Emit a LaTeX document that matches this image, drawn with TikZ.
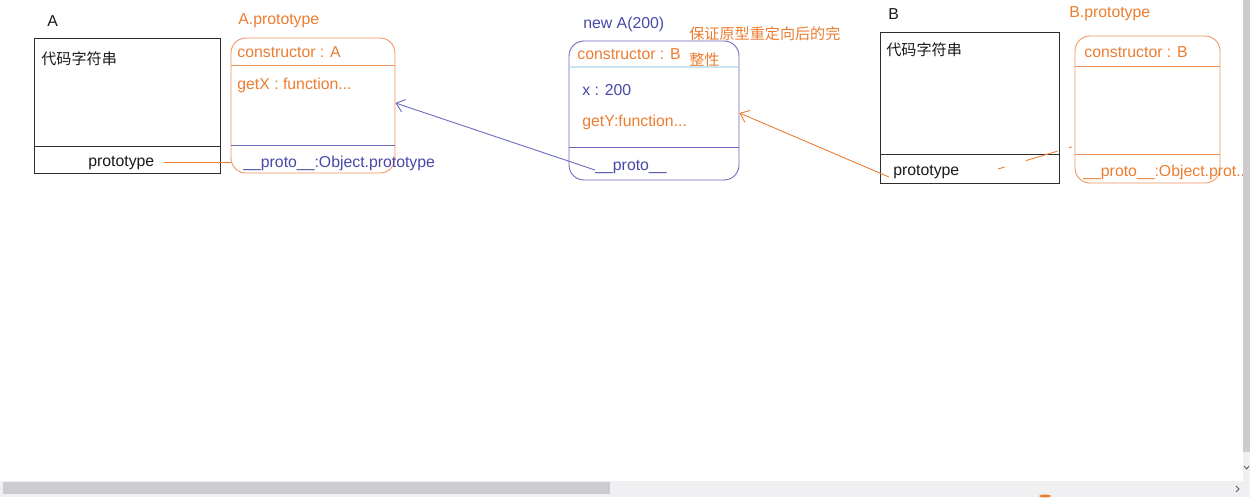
\documentclass[tikz,border=0pt]{standalone}
\usepackage{fontspec}
\setmainfont{Liberation Sans}
\newfontfamily\cjk{Noto Sans CJK SC}
\usetikzlibrary{fit,arrows.meta}
\definecolor{og}{RGB}{237,125,49}
\definecolor{ogl}{RGB}{240,150,95}
\definecolor{bl}{RGB}{72,72,168}
\definecolor{bll}{RGB}{105,105,190}
\definecolor{lc}{RGB}{200,230,240}
\definecolor{ink}{RGB}{25,25,25}
\definecolor{edge}{RGB}{45,45,45}
\definecolor{sbtrack}{RGB}{240,239,242}
\definecolor{sbthumb}{RGB}{205,203,208}
\tikzset{
  lat/.style={anchor=base west,inner sep=0pt,font=\fontsize{9pt}{11pt}\selectfont},
  han/.style={anchor=base west,inner sep=0pt,font=\fontsize{8.6pt}{11pt}\selectfont\cjk},
  plainbox/.style={draw=edge,line width=0.5pt,inner sep=0pt},
  protobox/.style={draw=ogl,line width=0.5pt,inner sep=0pt,rounded corners=0.3cm},
  objbox/.style={draw=bll,line width=0.5pt,inner sep=0pt,rounded corners=0.3cm},
  link/.style={line width=0.5pt},
  tipopen/.style={-{Straight Barb[length=0.16cm,width=0.26cm]}}
}
\begin{document}
\begin{tikzpicture}[x=0.02cm,y=-0.02cm]
\useasboundingbox[fill=white] (0,0) rectangle (1250,497);
% ---- A ----
\node[lat,text=ink] (Alab) at (47,27) {A};
\node[plainbox,fit={(34,38) (220,173)}] (Abox) {};
\draw[edge,line width=0.5pt] (Abox.west |- 0,146) -- (Abox.east |- 0,146);
\node[han,text=ink] (Acode) at (41,64) {代码字符串};
\node[lat,text=ink] (Aprot) at (88,166) {prototype};
% ---- A.prototype ----
\node[lat,text=og] (APlab) at (238,25) {A.prototype};
\node[protobox,fit={(231,38) (395,173)}] (APbox) {};
\draw[ogl,line width=0.5pt] (APbox.west |- 0,65) -- (APbox.east |- 0,65);
\draw[bll,line width=0.5pt] (APbox.west |- 0,145) -- (APbox.east |- 0,145);
\node[lat,text=og] (APcons) at (237,57) {constructor : A};
\node[lat,text=og] (APget) at (237,89) {getX : function...};
\node[lat,text=bl] (APpro) at (243,167) {\_\_proto\_\_:Object.prototype};
\draw[og,link] ([xshift=0.18cm]Aprot.east |- 0,162) -- (APbox.west |- 0,162);
% ---- new A(200) ----
\node[lat,text=bl] (Nlab) at (583,29) {new A(200)};
\node[objbox,fit={(569,41) (739,180)}] (Nbox) {};
\draw[lc,line width=0.8pt] ([xshift=0.02cm]Nbox.west |- 0,67) -- ([xshift=-0.02cm]Nbox.east |- 0,67);
\draw[bll,line width=0.5pt] (Nbox.west |- 0,147) -- (Nbox.east |- 0,147);
\node[lat,text=og] (Ncons) at (577,59) {constructor : B};
\node[lat,text=bl] (Nx) at (582,95) {x : 200};
\node[lat,text=og] (Nget) at (582,126) {getY:function...};
\node[lat,text=bl] (Npro) at (595,170) {\_\_proto\_\_};
\node[han,text=og] (note1) at (689,39) {保证原型重定向后的完};
\node[han,text=og] (note2) at (689,65) {整性};
\draw[bll,link,tipopen] (Npro.base west) -- (APbox.east |- 0,103);
% ---- B ----
\node[lat,text=ink] (Blab) at (888,19) {B};
\node[plainbox,fit={(880,32) (1059,183)}] (Bbox) {};
\draw[edge,line width=0.5pt] (Bbox.west |- 0,154) -- (Bbox.east |- 0,154);
\node[han,text=ink] (Bcode) at (886,55) {代码字符串};
\node[lat,text=ink] (Bprot) at (893,175) {prototype};
% ---- B.prototype ----
\node[lat,text=og] (BPlab) at (1069,17) {B.prototype};
\node[protobox,fit={(1075,36) (1220,183)}] (BPbox) {};
\draw[ogl,line width=0.5pt] (BPbox.west |- 0,66) -- (BPbox.east |- 0,66);
\draw[ogl,line width=0.5pt] (BPbox.west |- 0,154) -- (BPbox.east |- 0,154);
\node[lat,text=og] (BPcons) at (1084,57) {constructor : B};
\node[lat,text=og] (BPpro) at (1083,176) {\_\_proto\_\_:Object.prot..};
\coordinate (Bstart) at (889,177);
\draw[og,link,tipopen] (Bstart) -- (Nbox.east |- 0,113);
\coordinate (dA) at (998,169);
\draw[og,link,dash pattern=on 0.14cm off 0.44cm on 0.66cm off 0.24cm on 0.06cm] (dA) -- (BPbox.west |- 0,146);
% ---- scrollbars ----
\fill[sbtrack] (0,481) rectangle (1250,497);
\fill[sbthumb] (3,482) rectangle (610,494);
\fill[sbtrack] (1243,0) rectangle (1250,481);
\fill[sbthumb] (1243,0) rectangle (1250,452);
\draw[ink!70,line width=0.5pt] (1244,466) -- (1246.5,469) -- (1249,466);
\draw[ink!70,line width=0.5pt] (1236,486) -- (1239,489) -- (1236,492);
\fill[og] (1045,496) ellipse (6 and 1.5);
\end{tikzpicture}
\end{document}
